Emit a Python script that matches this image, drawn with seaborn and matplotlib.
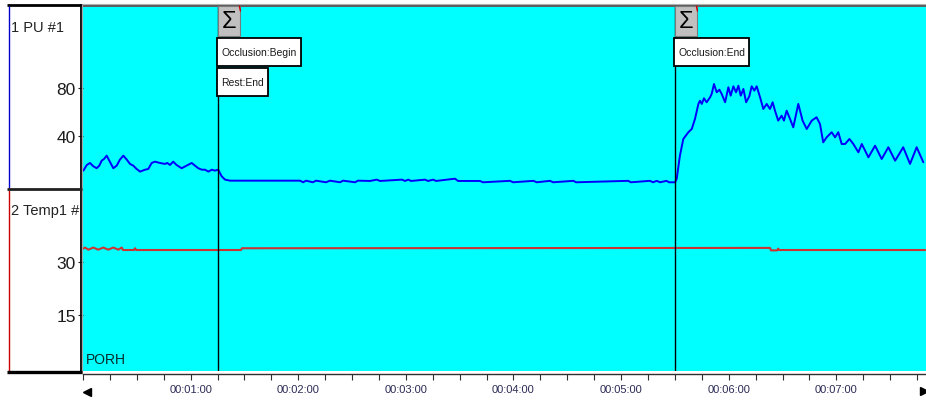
import matplotlib
matplotlib.use("Agg")
import matplotlib.pyplot as plt
import pandas as pd
import seaborn as sns
from matplotlib import font_manager
from matplotlib.lines import Line2D
from matplotlib.patches import Rectangle
from matplotlib.ticker import FuncFormatter, MultipleLocator

# ---------------------------------------------------------------- data
# Perfusion (PU) channel, time in seconds
baseline_time = [0.2, 2.1, 3.9, 5.7, 7.6, 9.1, 10.4, 11.7, 13.2, 14.7, 16.9, 18.8,
                 20.6, 22.5, 24.4, 26.2, 28.0, 29.9, 31.8, 34.6, 36.4, 38.3, 40.1,
                 42.9, 45.7, 47.0, 48.5, 50.3, 52.2, 55.0, 57.8, 60.6, 62.4, 64.3,
                 66.2, 68.0, 69.9, 71.8, 73.6, 75.4, 77.3, 79.2, 82.0]
baseline_pu = [11.1, 15.8, 17.5, 14.8, 13.1, 15.3, 19.4, 20.8, 23.6, 19.4, 13.1, 15.3,
               20.3, 23.6, 20.3, 16.7, 15.3, 12.5, 10.3, 11.9, 12.5, 17.5, 18.6,
               17.5, 16.7, 17.5, 15.8, 18.6, 15.8, 13.1, 15.3, 17.5, 15.3, 13.1,
               11.9, 11.9, 10.3, 11.9, 11.1, 11.9, 6.4, 3.6, 2.75]

occlusion_time = [121.0, 122.7, 124.4, 128.2, 129.9, 135.5, 137.7, 143.3, 145.0,
                  151.7, 153.3, 160.0, 163.8, 165.6, 177.9, 179.5, 181.4, 182.9,
                  190.7, 192.3, 195.3, 196.8, 207.4, 209.1, 221.3, 223.0, 238.1,
                  239.8, 251.1, 253.0, 260.4, 262.1, 273.4, 274.9, 304.0, 305.5,
                  316.1, 317.8, 319.9, 321.7, 325.4, 326.7, 330.1]
occlusion_pu = [2.75, 1.4, 2.75, 1.4, 2.75, 1.4, 2.75, 1.4, 2.75,
                1.4, 2.75, 2.5, 3.6, 2.5, 3.6, 2.5, 3.6, 2.5,
                3.6, 2.5, 3.6, 2.5, 4.4, 2.5, 2.5, 1.4, 2.6,
                1.4, 2.6, 1.4, 2.6, 1.4, 2.6, 1.4, 2.6, 1.4,
                2.6, 1.4, 2.6, 1.4, 2.6, 1.4, 1.4]

recovery_time = [331.0, 332.8, 334.7, 337.5, 339.4, 341.2, 343.1, 344.0, 345.0,
                 346.2, 347.7, 349.6, 350.5, 351.8, 353.3, 354.8, 356.1, 358.0,
                 359.8, 361.1, 362.6, 364.1, 365.4, 366.7, 368.2, 369.7, 371.5,
                 372.8, 374.3, 375.6, 377.5, 379.3, 381.2, 383.0, 384.5, 385.8,
                 387.6, 389.5, 390.8, 392.3, 394.2, 396.0, 398.8, 401.2, 403.5,
                 406.3, 409.0, 410.9, 412.7, 414.6, 417.4, 419.3, 421.1, 423.0,
                 424.9, 427.3, 429.5, 432.3, 434.2, 437.9, 441.6, 445.3, 449.0,
                 452.8, 457.3, 461.1, 464.8, 468.5]
recovery_pu = [4.2, 23.6, 37.5, 43.1, 45.8, 54.2, 66.7, 69.4, 66.7,
               71.4, 68.1, 72.2, 75.0, 83.3, 76.4, 78.6, 75.0, 68.1,
               80.6, 73.6, 81.4, 76.4, 81.9, 73.6, 79.2, 68.1, 73.1,
               81.4, 77.8, 81.4, 72.2, 62.5, 66.7, 62.5, 68.1, 61.1,
               52.8, 56.9, 52.8, 61.1, 54.2, 47.2, 66.7, 52.8, 45.8,
               52.8, 55.6, 50.0, 34.7, 38.9, 43.1, 38.9, 43.1, 33.3,
               33.3, 37.5, 33.3, 26.4, 33.3, 22.2, 31.9, 20.8, 30.6,
               19.4, 30.6, 16.7, 30.6, 18.1]

# Skin temperature channel
temp_time = [0.2, 1.1, 3.0, 5.7, 8.5, 11.3, 14.1, 16.9, 19.7, 21.6, 22.3, 28.4,
             29.0, 29.6, 88.1, 88.6, 383.0, 383.6, 387.0, 387.6, 388.1, 469.5]
temp_value = [33.8, 34.1, 33.5, 34.1, 33.5, 34.1, 33.5, 34.1, 33.5, 34.1, 33.4, 33.4,
              33.9, 33.4, 33.4, 33.9, 34.0, 33.3, 33.3, 33.8, 33.4, 33.4]

# Event marks
event_times = [75.5, 330.3]
event_labels = [["Occlusion:Begin", "Rest:End"], ["Occlusion:End"]]

channel_names = ["1 PU #1", "2 Temp1 #"]
pu_ticks = [40, 80]
temp_ticks = [15, 30]
protocol_name = "PORH"

# ---------------------------------------------------------------- style
sns.set_theme(style="white")
available = {f.name for f in font_manager.fontManager.ttflist}
FONT = "Liberation Sans Narrow" if "Liberation Sans Narrow" in available else "Liberation Sans"
plt.rcParams["font.family"] = [FONT, "DejaVu Sans"]

CYAN = "#00ffff"
W, H = 926, 402

fig = plt.figure(figsize=(W / 100, H / 100), dpi=100, facecolor="white")


def fig_box(x0, y0, x1, y1):
    """Axes rectangle from pixel edges measured from the top-left corner."""
    return [x0 / W, 1 - y1 / H, (x1 - x0) / W, (y1 - y0) / H]


def fx(x):
    return x / W


def fy(y):
    return 1 - y / H


ax_pu = fig.add_axes(fig_box(83, 8, 926, 190))
ax_temp = fig.add_axes(fig_box(83, 190, 926, 372), sharex=ax_pu)

pu_df = pd.DataFrame({
    "time": baseline_time + occlusion_time + recovery_time,
    "value": baseline_pu + occlusion_pu + recovery_pu,
})
temp_df = pd.DataFrame({"time": temp_time, "value": temp_value})

sns.lineplot(data=pu_df, x="time", y="value", ax=ax_pu, color="#0000ff",
             lw=1.4, estimator=None, sort=False)
sns.lineplot(data=temp_df, x="time", y="value", ax=ax_temp, color="#cc3333",
             lw=1.5, estimator=None, sort=False)

for ax in (ax_pu, ax_temp):
    ax.set_facecolor(CYAN)
    for sp in ax.spines.values():
        sp.set_visible(False)
    ax.set_xlabel("")
    ax.set_ylabel("")
    ax.tick_params(axis="y", left=True, direction="out", length=3.6, width=0.8,
                   color="#202020", pad=1.5, labelsize=12.5, labelcolor="#1c1c1c")
    for t in event_times:
        ax.axvline(t, color="black", lw=1.0, zorder=3)

ax_pu.set_xlim(0, 470)
ax_pu.set_ylim(-4.2, 147.5)
ax_temp.set_ylim(-0.9, 50.7)
ax_pu.set_yticks(pu_ticks)
ax_temp.set_yticks(temp_ticks)
ax_pu.tick_params(axis="x", bottom=False, labelbottom=False)


def clock(t, pos):
    s = int(round(t))
    if s > 0 and s % 60 == 0:
        return f"00:{s // 60:02d}:00"
    return ""


ax_temp.xaxis.set_major_locator(MultipleLocator(15))
ax_temp.xaxis.set_major_formatter(FuncFormatter(clock))
ax_temp.spines["bottom"].set_visible(True)
ax_temp.spines["bottom"].set_position(("outward", 2.2))
ax_temp.spines["bottom"].set_color("#303030")
ax_temp.spines["bottom"].set_linewidth(1.0)
ax_temp.tick_params(axis="x", bottom=True, direction="out", length=4.3, width=0.8,
                    color="#303030", pad=3, labelsize=8, labelcolor="#2b2b55")

# ---------------------------------------------------------------- channel panel
panel_top = Rectangle((fx(8), fy(190)), 72 / W, 183 / H, transform=fig.transFigure,
                      fc="white", ec="none", zorder=-1)
panel_bot = Rectangle((fx(8), fy(373)), 72 / W, 183 / H, transform=fig.transFigure,
                      fc="white", ec="none", zorder=-1)
fig.add_artist(panel_top)
fig.add_artist(panel_bot)


def hline(x0, x1, y, color, lw, z=4):
    fig.add_artist(Line2D([fx(x0), fx(x1)], [fy(y), fy(y)], color=color, lw=lw,
                          transform=fig.transFigure, zorder=z, solid_capstyle="butt"))


def vline(x, y0, y1, color, lw, z=4):
    fig.add_artist(Line2D([fx(x), fx(x)], [fy(y0), fy(y1)], color=color, lw=lw,
                          transform=fig.transFigure, zorder=z, solid_capstyle="butt"))


hline(82, 926, 5, "#b0b0b0", 0.8)
hline(82, 926, 6.8, "#404040", 1.2)
hline(7, 82, 6.3, "black", 2.0)
vline(8.5, 7, 189, "#0000cc", 1.0)
vline(8.5, 191, 372, "#cc0000", 1.0)
vline(80.5, 5, 374, "black", 1.3)
vline(82.2, 5, 374, "#a8a8a8", 0.8)
hline(7, 82, 190, "#202020", 2.0)
hline(7, 82, 372.8, "black", 2.4)

label_y = [32, 215]
for name, base, clip in zip(channel_names, label_y, (panel_top, panel_bot)):
    txt = fig.text(fx(11), fy(base), name, fontsize=10.5, color="#222222",
                   va="baseline", ha="left", zorder=5)
    txt.set_clip_path(clip)

fig.text(fx(86), fy(364), protocol_name, fontsize=10, color="#0a2a2a",
         va="baseline", ha="left", zorder=5)

# bottom scroll arrows
fig.add_artist(Line2D([fx(87)], [fy(393)], marker="<", ms=6, color="black",
                      ls="none", transform=fig.transFigure))
fig.add_artist(Line2D([fx(923.5)], [fy(392)], marker=">", ms=6, color="black",
                      ls="none", transform=fig.transFigure))

# ---------------------------------------------------------------- event marks
fig.canvas.draw()
renderer = fig.canvas.get_renderer()
for t, labels in zip(event_times, event_labels):
    px = ax_pu.transData.transform((t, 0))[0]
    fig.add_artist(Rectangle((fx(px), fy(37)), 22 / W, 30 / H, transform=fig.transFigure,
                             fc="#c0c0c0", ec="#7a7a7a", lw=0.8, zorder=5))
    fig.text(fx(px + 11), fy(22), "\u03a3", fontsize=17, color="black",
             ha="center", va="center", zorder=6)
    fig.add_artist(Line2D([fx(px + 21), fx(px + 22)], [fy(7), fy(12)], color="#cc0000",
                          lw=1.0, transform=fig.transFigure, zorder=6))
    for i, lab in enumerate(labels):
        top = 39 + 30 * i
        txt = fig.text(fx(px + 3), fy(top + 14), lab, fontsize=7.5, color="#1a1a1a",
                       ha="left", va="center", zorder=7)
        bb = txt.get_window_extent(renderer=renderer)
        width = bb.x1 - (px - 1) + 4
        fig.add_artist(Rectangle((fx(px - 1), fy(top + 28)), width / W, 28 / H,
                                 transform=fig.transFigure, fc="white", ec="black",
                                 lw=1.3, zorder=6))

fig.savefig("out.png", dpi=100, facecolor="white")
